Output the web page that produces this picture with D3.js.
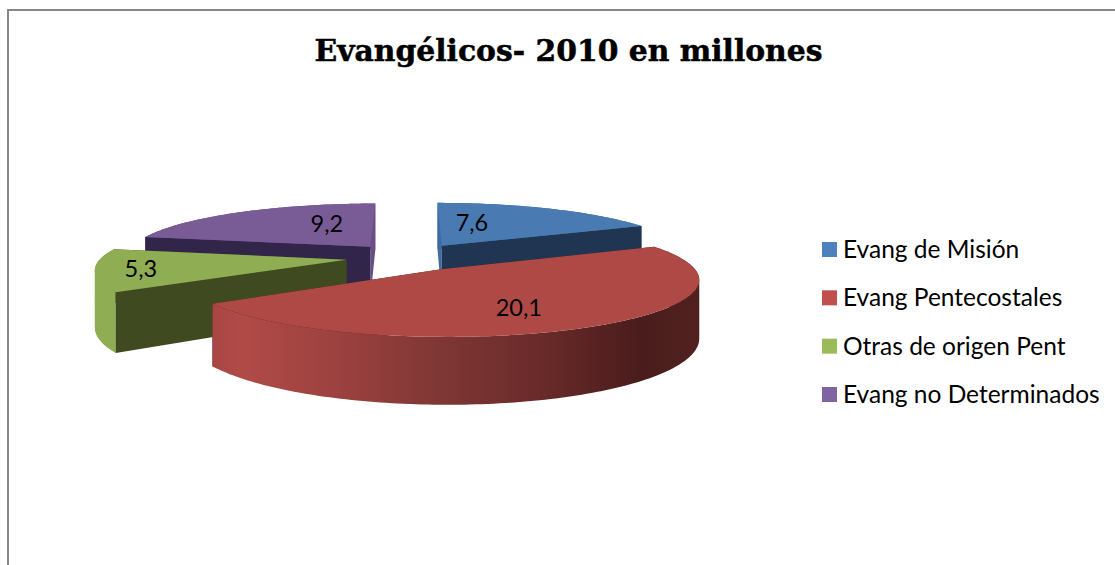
<!DOCTYPE html>
<html lang="es">
<head>
<meta charset="utf-8">
<style>
  html, body { margin: 0; padding: 0; background: #fff; overflow: hidden; }
  svg { display: block; }
</style>
<script src="https://cdn.jsdelivr.net/npm/d3@7"></script>
</head>
<body>
<svg id="chart" width="1115" height="565"></svg>
<script>
// Chart data
const chartTitle = "Evangélicos- 2010 en millones";
const categories = ["Evang de Misión", "Evang Pentecostales", "Otras de origen Pent", "Evang no Determinados"];
const values = [7.6, 20.1, 5.3, 9.2];

// Slice colours: legend key, lit top, side lit, side in shadow
const keyColors = ["#4f81bd", "#c0504d", "#9bbb59", "#8064a2"];
const topColors = ["#4a7ab2", "#ae4946", "#8fad53", "#795c95"];
const sideColors = ["#3f6ba0", "#9c403e", "#8fad53", "#6a4f86"];
const shadeColors = ["#1f3551", "#4a1e1c", "#404a20", "#31264a"];

// Perspective of the pie plane, in unit-radius plane coordinates
const view = { x0: 409, horizon: -84, focal: 245, height: 341, depth: 55, k: 0.155 };
const explode = 0.258;
// Where each value label sits relative to its own slice tip, in plane units
const labelShift = [[0.148, 0.519], [0.263, -0.615], [-0.804, -0.169], [-0.209, 0.51]];

const svg = d3.select("#chart");
const defs = svg.append("defs");

// Chart frame, open toward the right and bottom edges of the page
svg.append("path")
  .attr("d", "M8,565V10H1115")
  .attr("fill", "none").attr("stroke", "#868686").attr("stroke-width", 2);

svg.append("text")
  .attr("x", 568.5).attr("y", 60.5)
  .attr("text-anchor", "middle")
  .attr("font-family", "'DejaVu Serif', serif")
  .attr("font-weight", "bold").attr("font-size", 29.8)
  .attr("stroke", "#000").attr("stroke-width", 0.5)
  .text(chartTitle);

const project = ([u, v], lifted = true) => {
  const w = 1 + view.k * v;
  return [
    view.x0 + view.focal * u / w,
    view.horizon + (view.height + (lifted ? 0 : view.depth)) / w
  ];
};

const line = d3.line();
const polar = (a, r = 1) => [r * Math.sin(a), r * Math.cos(a)];

const slices = d3.pie().sort(null).startAngle(0).endAngle(2 * Math.PI)(values)
  .map(d => {
    const mid = (d.startAngle + d.endAngle) / 2;
    const tip = polar(mid, explode);
    const onRim = a => { const p = polar(a); return [tip[0] + p[0], tip[1] + p[1]]; };
    const steps = Math.ceil((d.endAngle - d.startAngle) / 0.02);
    const rim = d3.range(steps + 1).map(i => onRim(d.startAngle + (d.endAngle - d.startAngle) * i / steps));
    return { ...d, tip, rim };
  });

// Shaded front wall of the big slice darkens from left to right
const wallGrad = defs.append("linearGradient")
  .attr("id", "wallShade").attr("gradientUnits", "userSpaceOnUse")
  .attr("x1", 211).attr("x2", 700).attr("y1", 0).attr("y2", 0);
[[0, "#a84543"], [0.063, "#b04b48"], [0.264, "#9b413f"], [0.464, "#7f3735"], [0.669, "#6a2b2a"], [0.873, "#4a1d1c"], [1, "#50211f"]]
  .forEach(([o, c]) => wallGrad.append("stop").attr("offset", o).attr("stop-color", c));

// A wall is a strip of quads wound the same way, so it stays filled where the rim turns back on itself
const wall = pts => d3.pairs(pts).map(([a, b]) => {
  const quad = [project(a), project(b), project(b, false), project(a, false)];
  if (d3.polygonArea(quad) < 0) quad.reverse();
  return line(quad) + "Z";
}).join("");
const meanV = pts => d3.mean(pts, p => p[1]);

// Far slices first so nearer ones overlap them
const drawOrder = [3, 0, 2, 1];
const pieLayer = svg.append("g");
drawOrder.forEach(i => {
  const s = slices[i];
  const g = pieLayer.append("g");
  const first = s.rim[0], last = s.rim[s.rim.length - 1];
  const edgeFill = a => Math.abs(Math.sin(a)) < 0.1 ? sideColors[i] : shadeColors[i];
  const faces = [
    { pts: [s.tip, first], fill: edgeFill(s.startAngle) },
    { pts: [s.tip, last], fill: edgeFill(s.endAngle) },
    { pts: s.rim, fill: i === 1 ? "url(#wallShade)" : sideColors[i] }
  ].sort((a, b) => meanV(b.pts) - meanV(a.pts));
  faces.forEach(f => g.append("path").attr("d", wall(f.pts)).attr("fill", f.fill));
  g.append("path")
    .attr("d", line([s.tip, ...s.rim].map(p => project(p))) + "Z")
    .attr("fill", topColors[i]);
});

// Value labels, with a decimal comma
const fmt = d3.formatLocale({ decimal: ",", thousands: ".", grouping: [3], currency: ["", ""] }).format(".1f");
svg.append("g").selectAll("text").data(slices).join("text")
  .attr("transform", (d, i) => {
    const [x, y] = project([d.tip[0] + labelShift[i][0], d.tip[1] + labelShift[i][1]]);
    return `translate(${x},${y})`;
  })
  .attr("dy", "0.36em")
  .attr("text-anchor", "middle")
  .attr("font-family", "Lato, sans-serif").attr("font-size", 23.5).attr("fill", "#000")
  .text(d => fmt(d.value));

// Legend
const legendY = d3.scalePoint().domain(categories).range([249.5, 394.5]);
const legend = svg.append("g").selectAll("g").data(categories).join("g")
  .attr("transform", d => `translate(822,${legendY(d)})`);
legend.append("rect").attr("y", -7.5).attr("width", 15).attr("height", 15)
  .attr("fill", (d, i) => keyColors[i]);
legend.append("text")
  .attr("x", 21).attr("y", 8.5)
  .attr("font-family", "Lato, sans-serif").attr("font-size", 24.5).attr("fill", "#000")
  .text(d => d);
</script>
</body>
</html>
